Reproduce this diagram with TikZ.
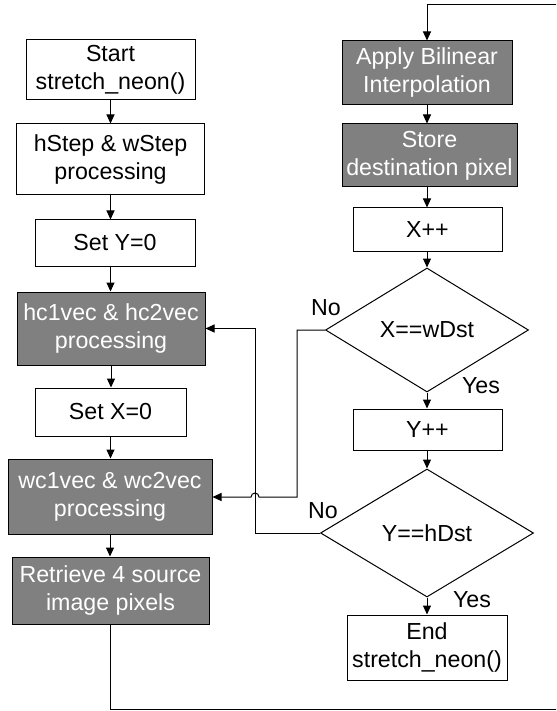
\documentclass[tikz,border=0pt]{standalone}
\usepackage{fontspec}
\setmainfont{Liberation Sans}
\usetikzlibrary{shapes.geometric,arrows.meta}
\definecolor{boxgray}{RGB}{128,128,128}
\begin{document}
\begin{tikzpicture}[x=0.5pt,y=-0.5pt,
  every node/.style={font=\fontsize{11.6}{14}\selectfont, align=center, inner sep=0pt},
  plainbox/.style={draw, line width=0.5pt, fill=white, text=black, rectangle},
  darkbox/.style={draw, line width=0.5pt, fill=boxgray, text=white, rectangle},
  decision/.style={draw, line width=0.5pt, diamond, fill=white},
  flow/.style={draw, line width=0.5pt, -{Triangle[width=4pt,length=4.5pt]}}]
\path[use as bounding box, clip] (0,0) rectangle (556,711);

% left column
\node[plainbox, minimum width=84.5pt, minimum height=30pt] (start) at (110.5,70) {Start\\stretch\_neon()};
\node[plainbox, minimum width=94pt, minimum height=35.5pt] (hstep) at (110.5,159.5) {hStep \& wStep\\processing};
\node[plainbox, minimum width=80pt, minimum height=23pt] (sety) at (115,243) {Set Y=0};
\node[darkbox, minimum width=94pt, minimum height=36.5pt] (hc) at (111,328.5) {hc1vec \& hc2vec\\processing};
\node[plainbox, minimum width=75.5pt, minimum height=24pt] (setx) at (110.5,412) {Set X=0};
\node[darkbox, minimum width=102pt, minimum height=37.5pt] (wc) at (110,496.5) {wc1vec \& wc2vec\\processing};
\node[darkbox, minimum width=98.5pt, minimum height=33.5pt] (retr) at (110.5,590.5) {Retrieve 4 source\\image pixels};

% right column
\node[darkbox, minimum width=85pt, minimum height=32pt] (apply) at (427,73) {Apply Bilinear\\Interpolation};
\node[darkbox, minimum width=87.5pt, minimum height=31.5pt] (store) at (429.5,155.5) {Store\\destination pixel};
\node[plainbox, minimum width=74.5pt, minimum height=21.5pt] (xpp) at (427.5,229.5) {X++};
\node[decision, minimum width=101.5pt, minimum height=62pt] (dx) at (427,330) {X==wDst};
\node[plainbox, minimum width=74.5pt, minimum height=20.5pt] (ypp) at (427.5,429.5) {Y++};
\node[decision, minimum width=106.5pt, minimum height=64pt] (dy) at (427,533) {Y==hDst};
\node[plainbox, minimum width=80pt, minimum height=32.5pt] (fin) at (427,647.5) {End\\stretch\_neon()};

% branch labels
\node (nox) at (326,308) {No};
\node (yesx) at (481,386) {Yes};
\node (noy) at (323,511) {No};
\node (yesy) at (472,600) {Yes};

% straight flow
\draw[flow] (start.south) -- (start.south |- hstep.north);
\draw[flow] (hstep.south) -- (hstep.south |- sety.north);
\draw[flow] (sety.south -| hstep.south) -- (hstep.south |- hc.north);
\draw[flow] (hc.south) -- (hc.south |- setx.north);
\draw[flow] (setx.south) -- (setx.south |- wc.north);
\draw[flow] (wc.south) -- (wc.south |- retr.north);
\draw[flow] (apply.south) -- (apply.south |- store.north);
\draw[flow] (store.south -| apply.south) -- (apply.south |- xpp.north);
\draw[flow] (xpp.south -| dx.north) -- (dx.north);
\draw[flow] (dx.south) -- (dx.south |- ypp.north);
\draw[flow] (ypp.south -| dy.north) -- (dy.north);
\draw[flow] (dy.south) -- (dy.south |- fin.north);

% inner loop: X != wDst, with a hop over the outer loop line
\coordinate (xa) at (297,330);
\coordinate (xb) at (297,497);
\coordinate (hop) at (259,497);
\draw[flow] (dx.west) -- (xa) -- (xb) -- (hop)
  arc[start angle=0, end angle=180, radius=2pt] -- (wc.east |- hop);

% outer loop: Y != hDst
\coordinate (ya) at (255,533);
\coordinate (yb) at (255,328.5);
\draw[flow] (dy.west) -- (ya) -- (yb) -- (hc.east);

% from pixel fetch round to interpolation (runs past the right edge)
\coordinate (r1) at (110.5,709);
\coordinate (r2) at (570,709);
\coordinate (r3) at (570,5);
\coordinate (r4) at (427,5);
\draw[flow] (retr.south) -- (r1) -- (r2) -- (r3) -- (r4) -- (apply.north);
\end{tikzpicture}
\end{document}
